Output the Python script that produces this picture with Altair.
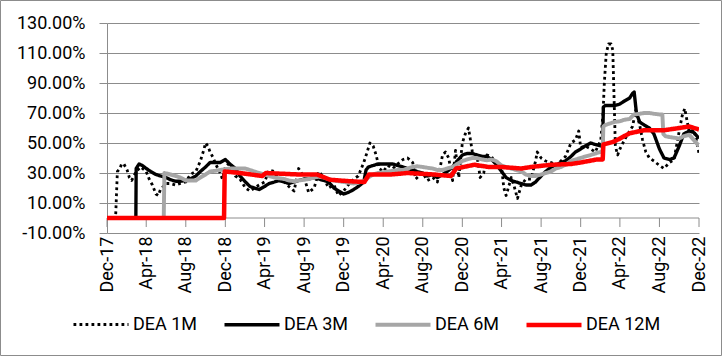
import altair as alt
import pandas as pd

FONT = "Roboto"
FS = 18
GRID = "#8c8c8c"

SERIES = ["DEA 1M", "DEA 3M", "DEA 6M", "DEA 12M"]
COLORS = ["#000000", "#000000", "#a6a6a6", "#ff0000"]
DASHES = [[2.8, 3.2], [1, 0], [1, 0], [1, 0]]
WIDTHS = [2.8, 4.5, 6, 4.5]

TICK_DATES = ["2017-12-01", "2018-04-01", "2018-08-01", "2018-12-01", "2019-04-01",
              "2019-08-01", "2019-12-01", "2020-04-01", "2020-08-01", "2020-12-01",
              "2021-04-01", "2021-08-01", "2021-12-01", "2022-04-01", "2022-08-01",
              "2022-12-01"]
Y_TICKS = [-10, 10, 30, 50, 70, 90, 110, 130]

m1_dates = ["2017-12-01", "2017-12-26", "2017-12-28", "2018-01-02", "2018-01-10", "2018-01-15",
            "2018-01-22", "2018-02-01", "2018-02-08", "2018-02-15", "2018-03-01", "2018-03-15",
            "2018-04-01", "2018-04-10", "2018-04-20", "2018-05-01", "2018-05-08", "2018-05-15",
            "2018-06-01", "2018-06-15", "2018-07-01", "2018-07-15", "2018-08-01", "2018-08-15",
            "2018-09-01", "2018-09-15", "2018-09-25", "2018-10-01", "2018-10-08", "2018-10-15",
            "2018-10-25", "2018-11-01", "2018-11-15", "2018-11-22", "2018-12-01", "2018-12-15",
            "2019-01-01", "2019-01-15", "2019-02-01", "2019-02-15", "2019-03-01", "2019-03-15",
            "2019-04-01", "2019-04-15", "2019-05-01", "2019-05-15", "2019-06-01", "2019-06-15",
            "2019-07-01", "2019-07-15", "2019-08-01", "2019-08-15", "2019-09-01", "2019-09-15",
            "2019-10-01", "2019-10-15", "2019-11-01", "2019-11-15", "2019-12-01", "2019-12-15",
            "2020-01-01", "2020-01-15", "2020-02-01", "2020-02-10", "2020-02-20", "2020-03-01",
            "2020-03-10", "2020-03-20", "2020-04-01", "2020-04-15", "2020-05-01", "2020-05-15",
            "2020-06-01", "2020-06-15", "2020-07-01", "2020-07-10", "2020-07-20", "2020-08-01",
            "2020-08-15", "2020-09-01", "2020-09-15", "2020-10-01", "2020-10-10", "2020-10-20",
            "2020-11-01", "2020-11-10", "2020-11-20", "2020-12-01", "2020-12-10", "2020-12-20",
            "2021-01-01", "2021-01-15", "2021-01-25", "2021-02-05", "2021-02-15", "2021-03-01",
            "2021-03-15", "2021-04-01", "2021-04-08", "2021-04-15", "2021-05-01", "2021-05-10",
            "2021-05-20", "2021-06-01", "2021-06-15", "2021-07-01", "2021-07-15", "2021-07-20",
            "2021-08-01", "2021-08-15", "2021-09-01", "2021-09-15", "2021-10-01", "2021-10-15",
            "2021-11-01", "2021-11-15", "2021-11-25", "2021-12-01", "2021-12-15", "2022-01-01",
            "2022-01-15", "2022-02-01", "2022-02-08", "2022-02-12", "2022-02-18", "2022-02-25",
            "2022-03-05", "2022-03-10", "2022-03-14", "2022-03-18", "2022-03-25", "2022-04-01",
            "2022-04-15", "2022-05-01", "2022-05-10", "2022-05-20", "2022-06-01", "2022-06-10",
            "2022-06-20", "2022-07-01", "2022-07-15", "2022-08-01", "2022-08-15", "2022-09-01",
            "2022-09-15", "2022-10-01", "2022-10-10", "2022-10-18", "2022-11-01", "2022-11-15",
            "2022-11-25", "2022-12-01"]
m1_vals = [0, 0, 3, 31, 33, 36,
           36, 32, 27, 25, 31, 34,
           31, 26, 22, 16, 15, 19,
           23, 23, 22, 23, 24, 29,
           31, 38, 45, 50, 48, 44,
           40, 36, 30, 26, 34, 37,
           28, 26, 20, 18, 20, 22,
           24, 32, 31, 25, 24, 21,
           18, 33, 27, 17, 20, 31,
           27, 20, 22, 15, 18, 22,
           26, 28, 37, 43, 50, 48,
           42, 33, 31, 35, 33, 36,
           39, 40, 37, 26, 28, 30,
           25, 27, 24, 42, 44, 40,
           25, 45, 27, 50, 56, 60,
           44, 42, 27, 30, 42, 41,
           36, 34, 20, 15, 27, 21,
           13, 22, 26, 26, 38, 44,
           40, 38, 37, 35, 38, 41,
           50, 52, 58, 47, 48, 46,
           44, 52, 70, 90, 110, 116,
           116, 112, 80, 48, 42, 46,
           52, 58, 61, 72, 62, 52,
           44, 40, 38, 35, 33, 37,
           39, 58, 68, 73, 57, 59,
           50, 43]

m3_dates = ["2017-12-01", "2018-02-28", "2018-03-01", "2018-03-10", "2018-03-20", "2018-04-01",
            "2018-04-15", "2018-05-01", "2018-05-15", "2018-06-01", "2018-06-15", "2018-07-01",
            "2018-07-15", "2018-08-01", "2018-08-15", "2018-09-01", "2018-09-15", "2018-10-01",
            "2018-10-15", "2018-11-01", "2018-11-15", "2018-12-01", "2018-12-15", "2019-01-01",
            "2019-01-15", "2019-02-01", "2019-02-15", "2019-03-01", "2019-03-15", "2019-04-01",
            "2019-04-15", "2019-05-01", "2019-05-15", "2019-06-01", "2019-06-15", "2019-07-01",
            "2019-07-15", "2019-08-01", "2019-08-15", "2019-09-01", "2019-09-15", "2019-10-01",
            "2019-10-15", "2019-11-01", "2019-11-15", "2019-12-01", "2019-12-15", "2020-01-01",
            "2020-01-15", "2020-02-01", "2020-02-08", "2020-02-15", "2020-03-01", "2020-03-15",
            "2020-04-01", "2020-04-15", "2020-05-01", "2020-05-15", "2020-06-01", "2020-06-15",
            "2020-07-01", "2020-07-15", "2020-08-01", "2020-08-15", "2020-09-01", "2020-09-15",
            "2020-10-01", "2020-10-15", "2020-11-01", "2020-11-15", "2020-12-01", "2020-12-15",
            "2021-01-01", "2021-01-15", "2021-02-01", "2021-02-15", "2021-03-01", "2021-03-15",
            "2021-04-01", "2021-04-15", "2021-05-01", "2021-05-15", "2021-06-01", "2021-06-15",
            "2021-07-01", "2021-07-15", "2021-08-01", "2021-08-15", "2021-09-01", "2021-09-15",
            "2021-10-01", "2021-10-15", "2021-11-01", "2021-11-15", "2021-12-01", "2021-12-15",
            "2022-01-01", "2022-01-15", "2022-02-01", "2022-02-07", "2022-02-09", "2022-02-15",
            "2022-03-01", "2022-03-15", "2022-04-01", "2022-04-15", "2022-05-01", "2022-05-10",
            "2022-05-15", "2022-05-22", "2022-06-01", "2022-06-15", "2022-07-01", "2022-07-15",
            "2022-08-01", "2022-08-15", "2022-09-01", "2022-09-15", "2022-10-01", "2022-10-15",
            "2022-11-01", "2022-11-15", "2022-12-01"]
m3_vals = [0, 0, 33, 36, 35, 33,
           31, 29, 28, 27, 25.5, 24.5,
           24.5, 25, 26, 28, 31, 34,
           37, 37, 37, 39, 36, 33,
           28, 24, 21, 20, 19, 21,
           23, 24, 25, 24, 23, 24,
           25, 26, 26, 27, 26, 25,
           24, 20, 18, 16, 17, 19,
           21, 24, 32, 34, 35, 36,
           36, 36, 36, 35, 34, 33,
           32, 31, 30, 28, 29, 27,
           29, 31, 34, 38, 42, 43,
           43, 42, 41, 41, 39, 36,
           31, 27, 25, 24, 23, 22,
           22, 24, 28, 31, 34, 35,
           37, 38, 41, 44, 46, 48,
           50, 49, 48, 50, 74, 75,
           75, 75, 76, 78, 80, 83,
           84, 70, 64, 62, 60, 56,
           46, 40, 39, 40, 48, 56,
           58, 57, 53]

m6_dates = ["2017-12-01", "2018-05-25", "2018-05-27", "2018-06-15", "2018-07-01", "2018-07-15",
            "2018-08-01", "2018-08-15", "2018-09-01", "2018-09-15", "2018-10-01", "2018-10-15",
            "2018-11-01", "2018-11-15", "2018-12-01", "2018-12-15", "2019-01-01", "2019-01-15",
            "2019-02-01", "2019-02-15", "2019-03-01", "2019-03-15", "2019-04-01", "2019-04-15",
            "2019-05-01", "2019-05-15", "2019-06-01", "2019-06-15", "2019-07-01", "2019-07-15",
            "2019-08-01", "2019-08-15", "2019-09-01", "2019-09-15", "2019-10-01", "2019-10-15",
            "2019-11-01", "2019-11-15", "2019-12-01", "2019-12-15", "2020-01-01", "2020-01-15",
            "2020-02-01", "2020-02-15", "2020-03-01", "2020-03-15", "2020-04-01", "2020-04-15",
            "2020-05-01", "2020-05-15", "2020-06-01", "2020-06-15", "2020-07-01", "2020-07-15",
            "2020-08-01", "2020-08-15", "2020-09-01", "2020-09-15", "2020-10-01", "2020-10-15",
            "2020-11-01", "2020-11-15", "2020-12-01", "2020-12-15", "2021-01-01", "2021-01-15",
            "2021-02-01", "2021-02-15", "2021-03-01", "2021-03-15", "2021-04-01", "2021-04-15",
            "2021-05-01", "2021-05-15", "2021-06-01", "2021-06-15", "2021-07-01", "2021-07-15",
            "2021-08-01", "2021-08-15", "2021-09-01", "2021-09-15", "2021-10-01", "2021-10-15",
            "2021-11-01", "2021-11-15", "2021-12-01", "2021-12-15", "2022-01-01", "2022-01-15",
            "2022-02-01", "2022-02-07", "2022-02-09", "2022-02-15", "2022-03-01", "2022-03-15",
            "2022-04-01", "2022-04-15", "2022-05-01", "2022-05-10", "2022-05-15", "2022-06-01",
            "2022-06-15", "2022-07-01", "2022-07-15", "2022-08-01", "2022-08-10", "2022-08-13",
            "2022-08-20", "2022-09-01", "2022-09-15", "2022-10-01", "2022-10-15", "2022-11-01",
            "2022-11-15", "2022-12-01"]
m6_vals = [0, 0, 30, 29, 28, 27,
           25, 25, 25, 27, 29, 31,
           31.5, 32, 32.5, 33, 33, 33,
           33, 32, 31, 30, 29, 28,
           27, 26.5, 26, 25, 24.5, 25,
           25.5, 26, 27, 27.5, 27, 26,
           25, 24.5, 24, 23.5, 23, 23.5,
           24.5, 27, 29, 30, 30.5, 31,
           31.5, 32, 32, 33, 34, 34.5,
           34, 33.5, 33, 32, 32, 33,
           34, 36, 38, 39, 40, 40,
           39, 38.5, 39, 38, 35, 34,
           33, 32, 31, 29, 28, 28,
           29, 30, 31, 33, 34, 35.5,
           38, 39, 40, 41, 42, 43,
           44, 45, 61, 62, 63, 64,
           64.5, 65.5, 66, 68, 69, 69.5,
           70, 70, 69.5, 69, 69, 56,
           54.5, 54, 53.5, 53, 54.5, 55.5,
           52, 48]

m12_dates = ["2017-12-01", "2018-11-27", "2018-11-29", "2019-01-15", "2019-03-25", "2019-04-05",
             "2019-07-15", "2019-09-10", "2019-10-20", "2019-12-20", "2020-02-03", "2020-02-17",
             "2020-04-24", "2020-06-15", "2020-09-05", "2020-10-27", "2020-11-12", "2021-01-07",
             "2021-02-20", "2021-04-01", "2021-06-01", "2021-07-01", "2021-09-01", "2021-11-01",
             "2021-12-01", "2022-01-20", "2022-02-07", "2022-02-09", "2022-03-15", "2022-05-01",
             "2022-06-15", "2022-08-15", "2022-10-01", "2022-11-01", "2022-12-01"]
m12_vals = [0, 0, 31, 30, 28, 30,
            29, 29, 25.5, 24.5, 24, 29,
            29, 30, 29, 28, 33, 35.5,
            34, 34, 33, 34, 35.5, 36,
            37, 39, 39, 49, 51, 56.5,
            58.5, 58.5, 60, 61, 59]

frames = []
for name, dates, vals in [("DEA 1M", m1_dates, m1_vals), ("DEA 3M", m3_dates, m3_vals),
                          ("DEA 6M", m6_dates, m6_vals), ("DEA 12M", m12_dates, m12_vals)]:
    frames.append(pd.DataFrame({"date": dates, "value": vals, "series": name}))
df = pd.concat(frames, ignore_index=True)

tick_ms = [int(pd.Timestamp(d, tz="UTC").value // 1_000_000) for d in TICK_DATES]
x_scale = alt.Scale(type="utc", domain=[tick_ms[0], tick_ms[-1]])
y_scale = alt.Scale(domain=[-10, 130], nice=False, zero=False)

x_axis = alt.Axis(values=tick_ms, format="%b-%y", labelAngle=-90, domain=False, ticks=False,
                  grid=False, labelPadding=3, labelFont=FONT, labelFontSize=FS,
                  labelColor="#000000", title=None, labelOverlap=False)
y_axis = alt.Axis(values=Y_TICKS,
                  labelExpr="(datum.value < 0 ? '-' : '') + format(abs(datum.value), '.2f') + '%'",
                  grid=True, gridColor=GRID, gridWidth=1, domainColor=GRID, tickColor=GRID,
                  tickSize=8, labelPadding=14, labelFont=FONT, labelFontSize=FS,
                  labelColor="#000000", title=None)

legend = alt.Legend(title=None, orient="none", legendX=-36, legendY=272, direction="horizontal",
                    columns=4, symbolType="stroke", symbolSize=3025, labelFont=FONT,
                    labelFontSize=FS, labelColor="#000000", labelOffset=2, columnPadding=7,
                    gridAlign="all", padding=0)

X = alt.X("date:T", scale=x_scale, axis=x_axis)
Y = alt.Y("value:Q", scale=y_scale, axis=y_axis)
color = alt.Color("series:N", scale=alt.Scale(domain=SERIES, range=COLORS), legend=legend)
dash = alt.StrokeDash("series:N", scale=alt.Scale(domain=SERIES, range=DASHES), legend=legend)
width = alt.StrokeWidth("series:N", scale=alt.Scale(domain=SERIES, range=WIDTHS), legend=legend)

# category axis line crossing at 0 and its tick marks
zero_line = alt.Chart(pd.DataFrame({"v": [0]})).mark_rule(color=GRID, strokeWidth=1).encode(
    y=alt.Y("v:Q", scale=y_scale, axis=y_axis))
tick_df = pd.DataFrame({"date": TICK_DATES, "lo": [0] * len(TICK_DATES),
                        "hi": [-6] * len(TICK_DATES)})
tick_marks = alt.Chart(tick_df).mark_rule(color=GRID, strokeWidth=1).encode(
    x=X, y=alt.Y("lo:Q", scale=y_scale, axis=y_axis), y2="hi:Q")

layers = [zero_line, tick_marks]
for s in SERIES:
    layers.append(
        alt.Chart(df).transform_filter(alt.datum.series == s)
        .mark_line(strokeJoin="round", clip=True)
        .encode(x=X, y=Y, color=color, strokeDash=dash, strokeWidth=width)
    )

frame = alt.Chart(pd.DataFrame({"a": [0]})).mark_rect(filled=False, stroke=GRID, strokeWidth=1).encode(
    x=alt.value(-106.5), x2=alt.value(614.5), y=alt.value(-22.5), y2=alt.value(332.5))
layers.append(frame)

chart = alt.layer(*layers).properties(
    width=592, height=210,
    autosize=alt.AutoSizeParams(type="none"),
    padding={"left": 107, "top": 23, "right": 23, "bottom": 123},
    background="#ffffff",
).configure_view(stroke=None)

chart.save("out.html", embed_options={"renderer": "svg", "actions": False})
